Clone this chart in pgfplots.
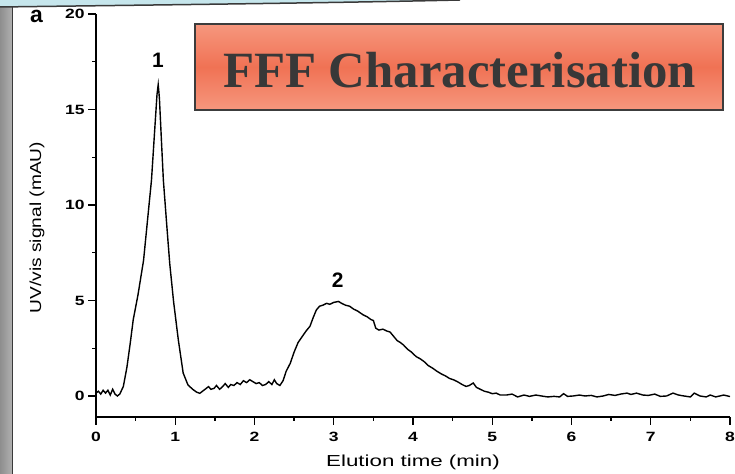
\documentclass[border=0pt]{standalone}
\usepackage{pgfplots}
\pgfplotsset{compat=1.18}
\usepackage{fontspec}
\setmainfont{Liberation Serif}
\newfontfamily\tickf[FakeStretch=1.3]{Liberation Sans}
\newfontfamily\xlabf[FakeStretch=1.4]{Liberation Sans}
\newfontfamily\ylabf[FakeStretch=1.2]{Liberation Sans}
\newfontfamily\boldsans{Liberation Sans}
\definecolor{salmonL}{HTML}{F6977E}
\definecolor{salmonD}{HTML}{F07254}
\definecolor{boxline}{HTML}{3C3C3C}
\definecolor{titletext}{HTML}{383838}
\definecolor{bandblue}{HTML}{C6E6EC}
\definecolor{bandline}{HTML}{3A3A3A}
\definecolor{stripA}{HTML}{8E8E8E}
\definecolor{stripB}{HTML}{B0B0B0}
\begin{document}
\begin{tikzpicture}[x=1bp,y=1bp]
\useasboundingbox (0,0) rectangle (735,474);
\fill[white] (0,0) rectangle (735,474);
% left textured strip
\shade[left color=stripA, right color=stripB] (0,0) rectangle (12,474);
\draw[line width=1.5bp, color=bandline] (12.5,0) -- (12.5,474);
\begin{axis}[
  at={(96bp,57bp)}, anchor=south west,
  scale only axis, width=634bp, height=403bp,
  xmin=0, xmax=8, ymin=-1.1, ymax=20,
  axis lines*=left,
  axis line style={line width=1.3bp, black},
  xtick={0,1,...,8}, ytick={0,5,10,15,20},
  minor x tick num=1, minor y tick num=1,
  tick align=outside,
  major tick length=8bp, minor tick length=4bp,
  every tick/.style={black, line width=1.3bp},
  tick label style={font=\tickf\bfseries\fontsize{13.5}{15}\selectfont},
  xticklabel style={yshift=-4bp},
  /pgf/number format/assume math mode=true,
  xlabel={\xlabf\fontsize{16}{18}\selectfont Elution time (min)},
  ylabel={\ylabf\fontsize{16}{18}\selectfont UV/vis signal (mAU)},
  xlabel style={at={(axis description cs:0.5,-0.112)}, anchor=center},
  ylabel style={at={(axis description cs:-0.093,0.47)}, anchor=center, rotate=0},
  clip=false,
]
\addplot[black, line width=1.4bp] coordinates {
(0,0.15)(0.03,0.25)(0.06,0.1)(0.09,0.3)(0.12,0.15)(0.15,0.3)(0.18,0.05)(0.21,0.35)(0.24,0.1)(0.27,0.0)(0.30,0.1)(0.345,0.5)(0.39,1.5)(0.43,2.7)(0.47,4.0)(0.53,5.3)(0.60,7.1)(0.65,9.2)(0.70,11.3)(0.745,14.2)(0.77,15.8)(0.785,16.3)(0.80,15.6)(0.83,13.0)(0.85,11.3)(0.89,9.1)(0.93,6.95)(0.98,4.9)(1.04,2.9)(1.10,1.2)(1.16,0.58)(1.22,0.35)(1.27,0.2)(1.31,0.14)(1.36,0.3)(1.42,0.49)(1.45,0.35)(1.49,0.4)(1.52,0.55)(1.56,0.35)(1.60,0.5)(1.63,0.65)(1.67,0.45)(1.70,0.6)(1.74,0.55)(1.78,0.7)(1.82,0.6)(1.86,0.8)(1.90,0.7)(1.94,0.85)(1.98,0.75)(2.02,0.65)(2.06,0.7)(2.10,0.55)(2.14,0.6)(2.18,0.75)(2.22,0.6)(2.25,0.85)(2.28,0.65)(2.32,0.55)(2.36,0.8)(2.40,1.3)(2.45,1.7)(2.50,2.3)(2.55,2.8)(2.60,3.1)(2.65,3.4)(2.70,3.65)(2.74,4.1)(2.78,4.5)(2.82,4.7)(2.86,4.75)(2.91,4.85)(2.95,4.8)(3.0,4.9)(3.06,4.95)(3.10,4.85)(3.15,4.75)(3.2,4.7)(3.25,4.55)(3.3,4.45)(3.37,4.25)(3.42,4.15)(3.47,4.0)(3.5,3.95)(3.53,3.55)(3.57,3.45)(3.62,3.5)(3.67,3.4)(3.71,3.35)(3.76,3.1)(3.80,2.9)(3.84,2.8)(3.88,2.67)(3.93,2.45)(3.98,2.3)(4.04,2.06)(4.09,1.95)(4.14,1.8)(4.19,1.6)(4.25,1.45)(4.30,1.3)(4.36,1.15)(4.41,1.05)(4.46,0.92)(4.51,0.85)(4.56,0.75)(4.62,0.6)(4.67,0.5)(4.71,0.55)(4.76,0.68)(4.80,0.45)(4.85,0.35)(4.90,0.25)(4.95,0.2)(5.0,0.12)(5.05,0.15)(5.1,0.05)(5.18,0.05)(5.25,0.1)(5.32,-0.05)(5.4,0.05)(5.47,-0.02)(5.55,0.05)(5.62,0.0)(5.7,-0.05)(5.78,-0.02)(5.85,-0.05)(5.9,0.12)(5.95,-0.02)(6.02,0.0)(6.1,0.05)(6.17,0.0)(6.25,0.03)(6.32,-0.05)(6.4,0.0)(6.47,0.08)(6.55,0.03)(6.62,0.1)(6.7,0.15)(6.75,0.08)(6.82,0.15)(6.9,0.05)(6.97,0.03)(7.05,0.1)(7.12,-0.02)(7.2,0.0)(7.28,0.15)(7.35,0.05)(7.42,0.0)(7.5,-0.05)(7.55,0.15)(7.62,0.0)(7.7,-0.05)(7.75,0.05)(7.82,-0.05)(7.87,0.0)(7.92,0.05)(8.0,-0.03)
};
\node[font=\boldsans\bfseries\fontsize{21}{24}\selectfont] at (axis cs:0.78,17.6) {1};
\node[font=\boldsans\bfseries\fontsize{21}{24}\selectfont] at (axis cs:3.05,6.07) {2};
\end{axis}
% panel letter
\node[font=\boldsans\bfseries\fontsize{23}{26}\selectfont, anchor=base] at (36.5,451) {a};
% title box
\shadedraw[top color=salmonL, bottom color=salmonL, middle color=salmonD, draw=boxline, line width=1.5bp] (195,364) rectangle (723,450);
\node[text=titletext, font=\bfseries\fontsize{51}{55}\selectfont, anchor=base] at (459.5,386) {FFF Characterisation};
% top band
\fill[bandblue] (0,474) -- (0,467) .. controls (150,469) and (330,471) .. (460,474) -- cycle;
\draw[line width=1.5bp, color=bandline] (0,467) .. controls (150,469) and (330,471) .. (460,474);
\end{tikzpicture}
\end{document}
